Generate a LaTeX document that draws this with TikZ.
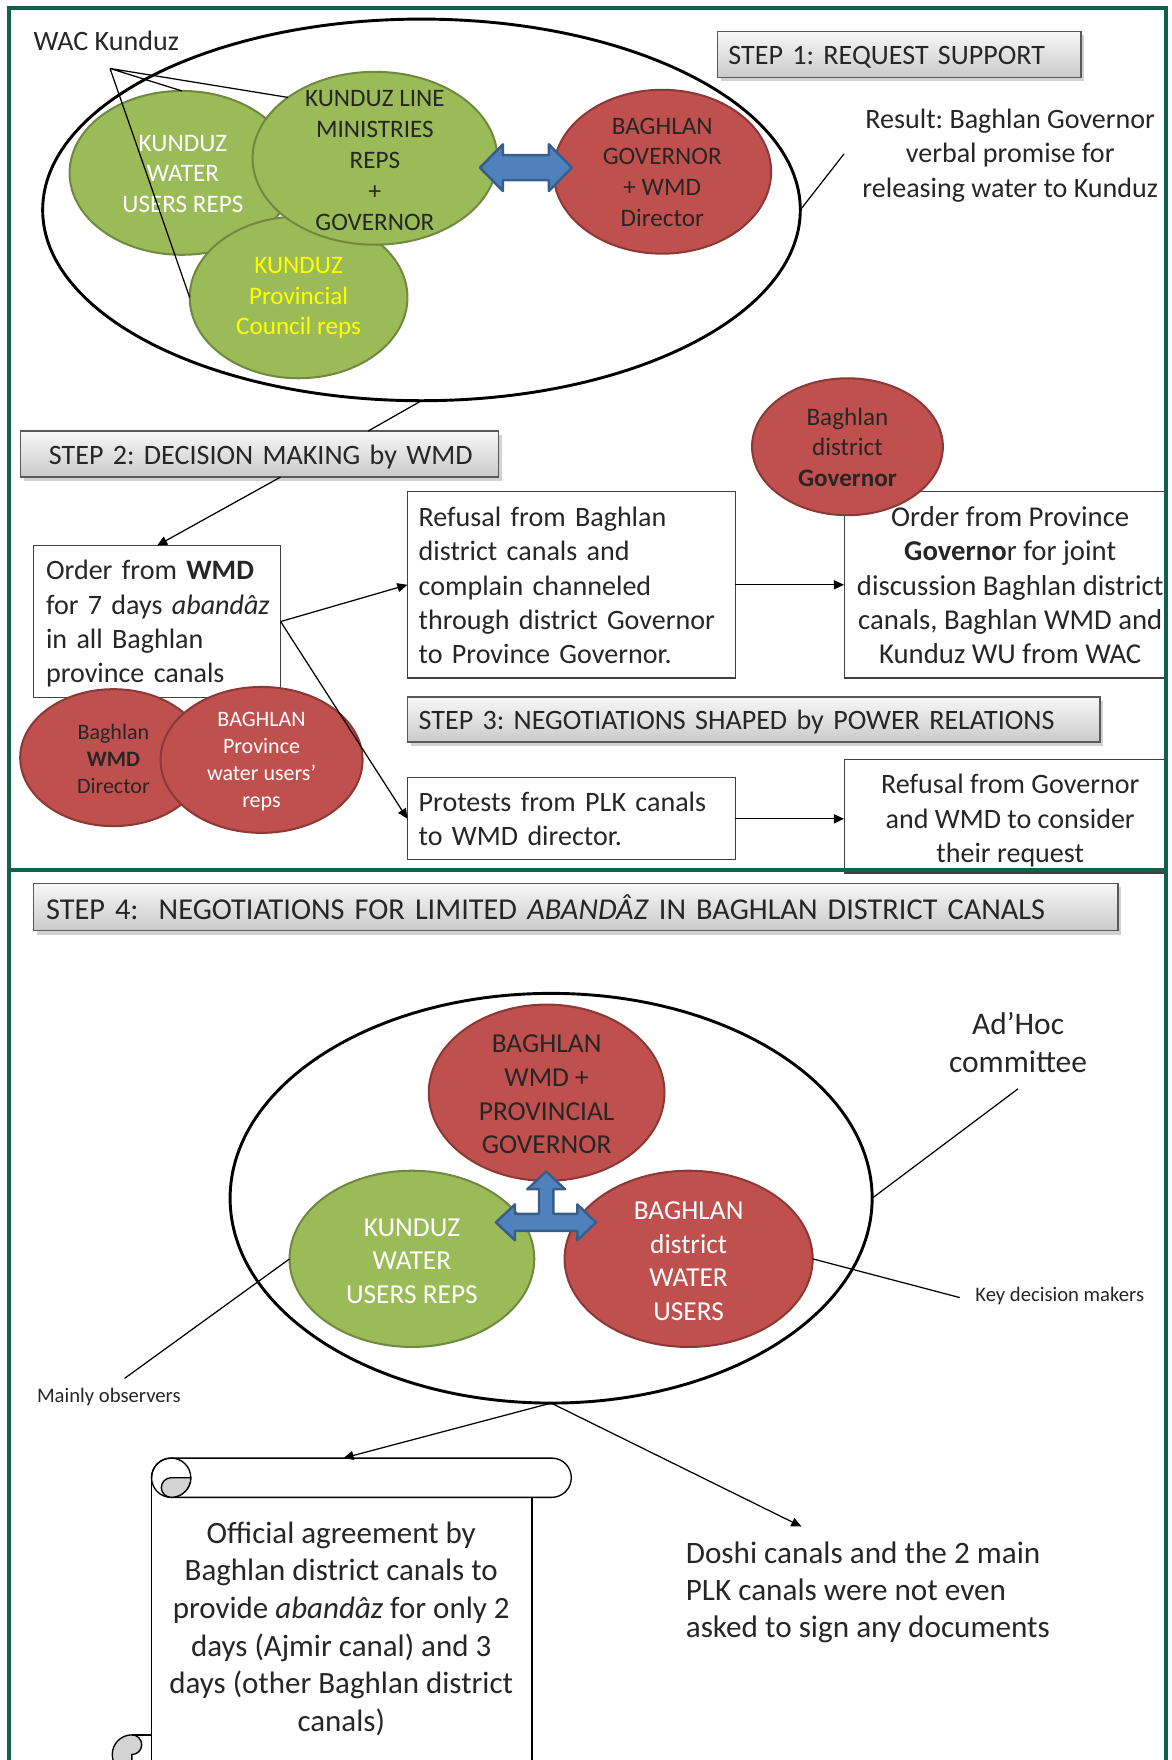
\documentclass[tikz,border=0pt]{standalone}
\usepackage{fontspec}
\setmainfont{Carlito}
\frenchspacing
\usetikzlibrary{shapes.geometric,arrows.meta,shadows,calc}
\definecolor{frameg}{HTML}{11604B}
\definecolor{gfill}{HTML}{9BBB59}
\definecolor{gline}{HTML}{71893F}
\definecolor{rfill}{HTML}{C0504D}
\definecolor{rline}{HTML}{8C3836}
\definecolor{bfill}{HTML}{4F81BD}
\definecolor{bline}{HTML}{385D8A}
\definecolor{txt}{HTML}{262626}
\definecolor{kyellow}{HTML}{FFFF00}
\definecolor{curlgray}{HTML}{D4D4D4}
\newcommand\LTab[2][3pt]{\noindent\begin{tabular}{@{}l@{}}\noalign{\vskip #1}#2\end{tabular}}
\newcommand\CTab[2][3pt]{\begin{tabular}{@{\hspace{4.5pt}}c@{}}\noalign{\vskip #1}#2\end{tabular}}
\begin{document}
\begin{tikzpicture}[x=0.5pt,y=-0.5pt,
  every node/.style={inner sep=0pt, outer sep=0pt, text=txt},
  bigell/.style={ellipse, draw=black, line width=1.3pt},
  gell/.style={ellipse, fill=gfill, draw=gline, line width=0.9pt},
  rell/.style={ellipse, fill=rfill, draw=rline, line width=0.9pt},
  steptitle/.style={rectangle, draw=black!65, line width=0.6pt, top color=gray!6, bottom color=gray!42,
     drop shadow={shadow xshift=1.5pt, shadow yshift=-1.8pt, opacity=0.3, fill=black!60},
     font=\fontsize{12.5}{15}\selectfont},
  txtbox/.style={rectangle, draw=black!75, line width=0.5pt, fill=white, font=\fontsize{12.5}{15.35}\selectfont},
  eltxt/.style={align=center, font=\fontsize{11.2}{13.75}\selectfont},
  eltxtsm/.style={align=center, font=\fontsize{9.8}{12}\selectfont},
  eltxtb/.style={align=center, font=\fontsize{12.2}{15}\selectfont},
  conn/.style={draw=black, line width=0.55pt},
  arr/.style={conn, -{Triangle[length=4.5pt,width=4pt]}},
  bluearr/.style={fill=bfill, draw=bline, line width=1.1pt, line join=round},
  frameline/.style={draw=frameg, line width=1.6pt},
  smalllabel/.style={anchor=west, font=\fontsize{9.2}{11}\selectfont},
]
\useasboundingbox (0,0) rectangle (1044,1568);

% ---------------- STEP 1 ----------------
\node[bigell, minimum width=337.5pt, minimum height=170pt] (wacel) at (375.5,187) {};
\node[gell, minimum width=100pt, minimum height=73pt] (kwu) at (162,154) {};
\node[eltxt, text=white] (kwut) at (163,155) {KUNDUZ\\WATER\\USERS REPS};
\node[gell, minimum width=97pt, minimum height=72pt] (kpc) at (266,265) {};
\node[eltxt, text=kyellow] (kpct) at (266,265.5) {KUNDUZ\\Provincial\\Council reps};
\node[gell, minimum width=109pt, minimum height=77pt] (klm) at (334,141) {};
\node[eltxt] (klmt) at (334,143) {KUNDUZ LINE\\MINISTRIES\\REPS\\+\\GOVERNOR};
\node[rell, minimum width=97pt, minimum height=73pt] (bgov) at (590,153) {};
\node[eltxt] (bgovt) at (590,153.5) {BAGHLAN\\GOVERNOR\\+ WMD\\Director};

\draw[bluearr] (427.6,149.4) -- (448,128.6) -- (448,138.3) -- (489,138.3) -- (489,128.6)
  -- (509.5,149.4) -- (489,170.2) -- (489,160.5) -- (448,160.5) -- (448,170.2) -- cycle;

\node[anchor=west, font=\fontsize{12.5}{15}\selectfont] (wac) at (30,36) {WAC Kunduz};
\coordinate (wacv) at (98,61);
\draw[conn] (klm.145) -- (wacv) -- (kwu.north);
\draw[conn] (wacv) -- (kpc.west);

\node[steptitle, minimum width=162pt, minimum height=20.5pt, text width=152pt, inner xsep=5pt] (step1) at (801,48.5) {\LTab{STEP 1: REQUEST SUPPORT}};

\node[align=center, font=\fontsize{12.5}{15.25}\selectfont] (result) at (900,138.5) {Result: Baghlan Governor\\verbal promise for\\releasing water to Kunduz};
\coordinate (rescall) at (752,137);
\draw[conn] (wacel.east) -- (rescall);

% ---------------- STEP 2 ----------------
\node[steptitle, minimum width=213pt, minimum height=20.5pt, text width=187.4pt, inner xsep=12.8pt] (step2) at (231,404.5) {\LTab{STEP 2: DECISION MAKING by WMD}};
\draw[conn] (wacel.south) -- ([xshift=155pt]step2.north west);

\node[txtbox, minimum width=110pt, minimum height=67.75pt, text width=99pt, inner xsep=5.5pt] (order) at (140,553.75) {\LTab[2.5pt]{Order from \textbf{WMD}\\for 7 days \textit{abandâz}\\in all Baghlan\\province canals}};
\draw[arr] ([xshift=116pt]step2.south west) -- (order.north);

\node[rell, minimum width=83pt, minimum height=61pt] (bwmd) at (101,675) {};
\node[eltxtsm] (bwmdt) at (101,676) {Baghlan\\\textbf{WMD}\\Director};
\node[rell, minimum width=90pt, minimum height=65pt] (bprov) at (233,677) {};
\node[eltxtsm, text=white] (bprovt) at (233,678.5) {BAGHLAN\\Province\\water users’\\reps};

\node[txtbox, minimum width=146pt, minimum height=83pt, text width=136pt, inner xsep=5pt] (refusal) at (509,521) {\LTab{Refusal from Baghlan\\district canals and\\complain channeled\\through district Governor\\to Province Governor.}};

\node[txtbox, font=\fontsize{12.8}{15.35}\selectfont, minimum width=143.5pt, minimum height=83pt] (ordprov) at (895.5,521) {\CTab{Order from Province\\\textbf{Governo}r for joint\\discussion Baghlan district\\canals, Baghlan WMD and\\Kunduz WU from WAC}};
\node[rell, minimum width=85pt, minimum height=61pt] (bdgov) at (755,398) {};
\node[eltxt] (bdgovt) at (755,398.5) {Baghlan\\district\\\textbf{Governor}};

% ---------------- STEP 3 ----------------
\node[steptitle, minimum width=308.5pt, minimum height=20pt, text width=298.5pt, inner xsep=5pt] (step3) at (671.5,641) {\LTab{STEP 3: NEGOTIATIONS SHAPED by POWER RELATIONS}};

\node[txtbox, minimum width=146pt, minimum height=36.5pt, text width=136pt, inner xsep=5pt] (protests) at (509,729.5) {\LTab[2.5pt]{Protests from PLK canals\\to WMD director.}};
\node[txtbox, minimum width=143.5pt, minimum height=50.5pt] (refgov) at (895.5,727.25) {\CTab[4.5pt]{Refusal from Governor\\and WMD to consider\\their request}};

\draw[arr] (order.east) -- (refusal.west);
\draw[arr] (order.east) -- (protests.west);
\draw[arr] (refusal.east) -- (ordprov.west);
\draw[arr] (protests.east) -- (protests.east -| refgov.west);

% ---------------- STEP 4 ----------------
\node[steptitle, font=\fontsize{13.5}{16}\selectfont, minimum width=483pt, minimum height=21pt, text width=472pt, inner xsep=5.5pt] (step4) at (513,808) {\LTab[5pt]{STEP 4:\ \ NEGOTIATIONS FOR LIMITED \textit{ABANDÂZ} IN BAGHLAN DISTRICT CANALS}};

\node[bigell, minimum width=286pt, minimum height=182.5pt] (adhoc) at (491,1067.5) {};
\node[rell, minimum width=105pt, minimum height=78.5pt] (bwg) at (487,973.5) {};
\node[eltxtb] (bwgt) at (487,975) {BAGHLAN\\WMD +\\PROVINCIAL\\GOVERNOR};
\node[gell, minimum width=109pt, minimum height=78.5pt] (kwu2) at (367,1121.5) {};
\node[eltxtb, text=white] (kwu2t) at (367,1123.5) {KUNDUZ\\WATER\\USERS REPS};
\node[rell, minimum width=110.5pt, minimum height=78.5pt] (bdwu) at (613.5,1121.5) {};
\node[eltxtb, text=white] (bdwut) at (613.5,1123.5) {BAGHLAN\\district\\WATER\\USERS};

\draw[bluearr] (486.6,1043.7) -- (503.4,1059.5) -- (493,1059.5) -- (493,1081.5) -- (514.3,1081.5)
  -- (514.3,1073) -- (531,1089) -- (514.3,1105) -- (514.3,1096.5) -- (458.8,1096.5) -- (458.8,1105)
  -- (441.8,1089) -- (458.8,1073) -- (458.8,1081.5) -- (480.2,1081.5) -- (480.2,1059.5) -- (469.8,1059.5) -- cycle;

\node[align=center, font=\fontsize{14}{17}\selectfont] (adhocl) at (907,929) {Ad’Hoc\\committee};
\coordinate (adhocc) at (907,970);
\draw[conn] (adhoc.east) -- (adhocc);

\node[smalllabel] (keyd) at (869,1155) {Key decision makers};
\coordinate (keydc) at (855,1156);
\draw[conn] (bdwu.east) -- (keydc);

\node[smalllabel] (mobs) at (33,1245) {Mainly observers};
\coordinate (mobsc) at (111,1228);
\draw[conn] (kwu2.west) -- (mobsc);

% scroll
\fill[white] (135,1316.5) -- (135,1590) -- (474,1590) -- (474,1334) -- cycle;
\draw[line width=0.6pt] (135,1316.5) -- (135,1590);
\draw[line width=0.6pt] (474,1334) -- (474,1590);
\draw[line width=0.6pt, fill=white] (152.5,1299) -- (491.5,1299) arc (-90:90:17.5) -- (152.5,1334);
\draw[line width=0.6pt, fill=white] (152.5,1316.5) circle (17.5);
\draw[line width=0.6pt, fill=curlgray] (152.5,1316.5) -- (170,1316.5) arc (0:90:17.5) arc (90:270:8.75) -- cycle;
\draw[line width=0.6pt] (135,1316.5) arc (180:270:17.5);
% bottom-left curl
\fill[white] (117.5,1545.6) rectangle (135,1590);
\draw[line width=0.6pt, fill=curlgray] (117.5,1545.6) arc (270:90:17.5) -- (117.5,1563.1) arc (90:-90:8.75) -- cycle;
\draw[line width=0.6pt] (117.5,1545.6) -- (135,1545.6);
\draw[line width=0.6pt] (135,1545.6) -- (135,1590);

\node[align=center, font=\fontsize{13.8}{16.8}\selectfont] (agree) at (304,1451) {Official agreement by\\Baghlan district canals to\\provide \textit{abandâz} for only 2\\days (Ajmir canal) and 3\\days (other Baghlan district\\canals)};

\coordinate (scrolltop) at (306,1299);
\coordinate (doshitip) at (714,1360);
\draw[arr] (adhoc.south) -- (scrolltop);
\draw[arr] (adhoc.south) -- (doshitip);

\node[anchor=west, align=left, font=\fontsize{13.9}{16.5}\selectfont] (doshi) at (611,1419) {Doshi canals and the 2 main\\PLK canals were not even\\asked to sign any documents};

% frame
\draw[frameline] (8,1590) -- (8,7) -- (1039,7) -- (1039,1590);
\draw[frameline] (8,775) -- (1039,775);
\end{tikzpicture}
\end{document}
